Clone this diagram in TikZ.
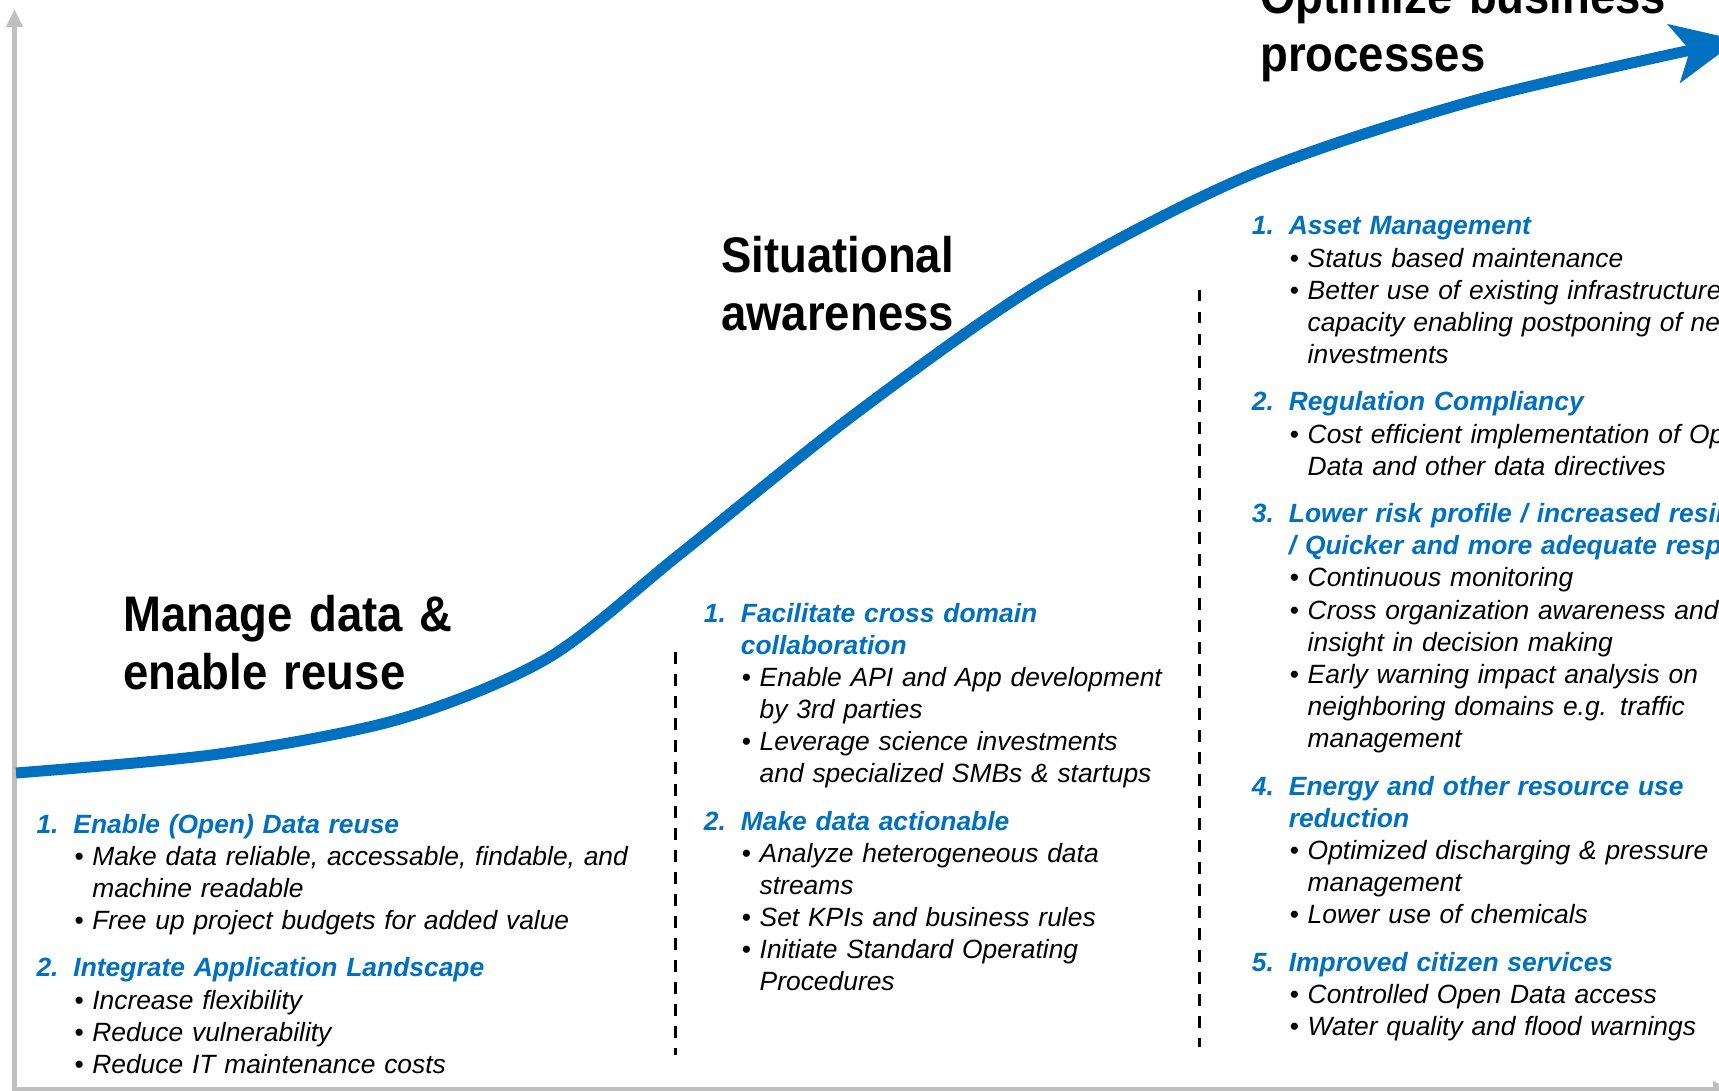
\documentclass[tikz,border=0pt]{standalone}
\usepackage{fontspec}
\setmainfont{Liberation Sans}
\newfontfamily\titlefont{Liberation Sans}[FakeStretch=0.91]
\usepackage{tikz}
\usetikzlibrary{positioning,arrows.meta}
\usepackage{xcolor}

\definecolor{curveblue}{RGB}{0,112,192}
\definecolor{axisgray}{RGB}{191,191,191}

% numbered goal (blue) and its bullet points
\newcommand{\goalhead}[2]{\leavevmode\hangindent=37pt\hangafter=1%
  {\color{curveblue}\bfseries\itshape\makebox[37pt][l]{#1}#2}}
\newcommand{\goalpoint}[1]{\par\leavevmode\hangindent=55.8pt\hangafter=1%
  \hspace*{38pt}\makebox[17.8pt][l]{\upshape •}#1}
\newcommand{\goalgap}{\par\vspace{15.5pt}}

\begin{document}
\begin{tikzpicture}[x=1pt, y=-1pt,
    axis/.style={draw=axisgray, line width=4.5pt, -{Triangle[length=18pt,width=16pt]}},
    growth/.style={draw=curveblue, line width=11pt, -{Stealth[length=65pt,width=59pt,inset=16pt]}},
    divider/.style={line width=3pt, dash pattern=on 11.5pt off 10.5pt},
    title/.style={anchor=base west, inner sep=0pt, text width=600pt, align=left,
      font=\titlefont\bfseries\fontsize{50}{58}\selectfont},
    col/.style={anchor=base west, inner sep=0pt, text width=700pt,
      font=\fontsize{26.4}{32.1}\selectfont\itshape}]
    \useasboundingbox (0,0) rectangle (1719,1091);
    \clip (0,0) rectangle (1719,1091);

    % Axes
    \draw[axis] (14.5,1089.5) -- (14.5,9);
    \draw[axis] (12,1089.5) -- (1731,1089.5);

    % Growth curve
    \draw[growth] plot[smooth, tension=0.5] coordinates {
        (16,773) (219,754) (400,719) (548,658) (680,554) (855,414)
        (1041,283) (1250,175) (1480,99) (1738,40)};

    % Stage titles
    \node[title] (manage) at (123,631) {Manage data \&\\enable reuse};
    \node[title] (situational) at (721,273) {Situational\\awareness};
    \node[title] (optimize) at (1260,14) {Optimize business\\processes};

    % Column separators
    \draw[divider] (675,652) -- (675,1055);
    \draw[divider] (1199.5,290) -- (1199.5,1047);

    % Stage 1
    \node[col] (reuse) at (36.3,833) {%
        \goalhead{1.}{Enable (Open) Data reuse}
        \goalpoint{Make data reliable, accessable, findable, and\newline machine readable}
        \goalpoint{Free up project budgets for added value}
        \goalgap
        \goalhead{2.}{Integrate Application Landscape}
        \goalpoint{Increase flexibility}
        \goalpoint{Reduce vulnerability}
        \goalpoint{Reduce IT maintenance costs}\par};

    % Stage 2
    \node[col] (aware) at (703.7,622) {%
        \goalhead{1.}{Facilitate cross domain\newline collaboration}
        \goalpoint{Enable API and App development\newline by 3rd parties}
        \goalpoint{Leverage science investments\newline and specialized SMBs \& startups}
        \goalgap
        \goalhead{2.}{Make data actionable}
        \goalpoint{Analyze heterogeneous data\newline streams}
        \goalpoint{Set KPIs and business rules}
        \goalpoint{Initiate Standard Operating\newline Procedures}\par};

    % Stage 3
    \node[col] (process) at (1251.7,235) {%
        \goalhead{1.}{Asset Management}
        \goalpoint{Status based maintenance}
        \goalpoint{Better use of existing infrastructure\newline capacity enabling postponing of new\newline investments}
        \goalgap
        \goalhead{2.}{Regulation Compliancy}
        \goalpoint{Cost efficient implementation of Open\newline Data and other data directives}
        \goalgap
        \goalhead{3.}{Lower risk profile / increased resilience\newline / Quicker and more adequate response}
        \goalpoint{Continuous monitoring}
        \goalpoint{Cross organization awareness and\newline insight in decision making}
        \goalpoint{Early warning impact analysis on\newline neighboring domains e.g. traffic\newline management}
        \goalgap
        \goalhead{4.}{Energy and other resource use\newline reduction}
        \goalpoint{Optimized discharging \& pressure\newline management}
        \goalpoint{Lower use of chemicals}
        \goalgap
        \goalhead{5.}{Improved citizen services}
        \goalpoint{Controlled Open Data access}
        \goalpoint{Water quality and flood warnings}\par};
\end{tikzpicture}
\end{document}
